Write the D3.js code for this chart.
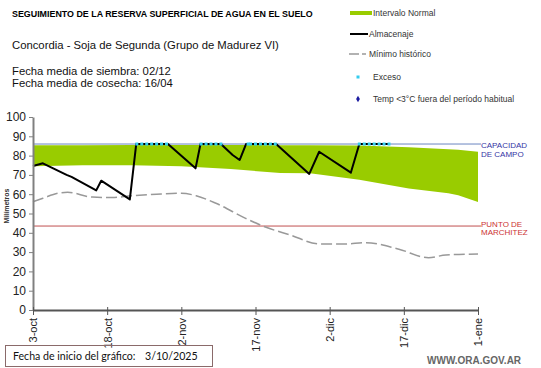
<!DOCTYPE html>
<html>
<head>
<meta charset="utf-8">
<script src="https://cdn.jsdelivr.net/npm/d3@7"></script>
<style>
  body { margin: 0; background: #fff; }
  svg text { font-family: "Liberation Sans", Arial, sans-serif; }
</style>
</head>
<body>
<div id="chart"></div>
<script>
// dimensions of the picture
const W = 541, H = 368;
const margin = {top: 117, right: 62, bottom: 58, left: 33};

// fecha de inicio y etiquetas del eje
const fechaInicio = new Date(2025, 9, 3);
const tickDias = [0, 15, 30, 45, 60, 75, 90];
const tickLabels = ["3-oct", "18-oct", "2-nov", "17-nov", "2-dic", "17-dic", "1-ene"];
const yTicks = [0, 10, 20, 30, 40, 50, 60, 70, 80, 90, 100];

// Intervalo normal (banda verde)
const normalDias = [0, 10, 20, 30, 40, 50, 56, 66, 76, 84, 86, 90];
const normalMin = [74.5, 75, 75, 74.5, 73, 71, 70.8, 67.5, 63, 60.5, 59.5, 56];
const normalMax = [85.4, 85.4, 85.5, 85.5, 85.5, 85.4, 85.3, 85.2, 84.3, 83.3, 83, 82];

// Almacenaje
const almDias = [0, 2, 6.8, 7.8, 12.8, 13.8, 19.6, 20.9, 27.3, 32.9, 33.9, 38, 40.4, 41.8, 43.1, 49.2, 55.9, 57.9, 64.3, 66, 72];
const almValores = [74.6, 76, 70, 69, 62, 67, 57.3, 86, 86, 73.4, 86, 86, 80.3, 77.7, 86, 86, 70.5, 82, 71.2, 86, 86];

// Minimo historico
const minDias = [0, 2, 5, 7, 12, 16, 20, 25, 30, 33, 37, 43, 47, 52, 58, 63, 67.3, 74, 80, 83.5, 90];
const minValores = [56.1, 57.9, 60.5, 61, 58.5, 58.3, 59.2, 60, 60.5, 59.2, 55.3, 47.5, 43, 38.9, 34.2, 34.2, 34.9, 31.5, 27.1, 28.5, 29];

// Dias con exceso (almacenaje en capacidad de campo)
const excesoDias = [21, 22, 23, 24, 25, 26, 27, 34, 35, 36, 37, 38, 43.5, 44, 45, 46, 47, 48, 49, 66, 67, 68, 69, 70, 71, 72];

const capacidadCampo = 86;
const puntoMarchitez = 43.5;

const svg = d3.select("#chart").append("svg")
  .attr("width", W).attr("height", H);

const fecha = d => d3.timeHour.offset(fechaInicio, d * 24);

const x = d3.scaleTime()
  .domain([fechaInicio, fecha(90)])
  .range([margin.left, W - margin.right - 1]);
const y = d3.scaleLinear()
  .domain([0, 100])
  .range([H - margin.bottom, margin.top]);

// header texts
svg.append("text").attr("x", 12).attr("y", 17)
  .style("font-size", "8.9px").style("font-weight", "bold")
  .text("SEGUIMIENTO DE LA RESERVA SUPERFICIAL DE AGUA EN EL SUELO");
svg.append("text").attr("x", 12).attr("y", 49)
  .style("font-size", "11.3px").attr("fill", "#111")
  .text("Concordia - Soja de Segunda (Grupo de Madurez VI)");
svg.append("text").attr("x", 12).attr("y", 75)
  .style("font-size", "11.3px").attr("fill", "#111")
  .text("Fecha media de siembra: 02/12");
svg.append("text").attr("x", 12).attr("y", 87)
  .style("font-size", "11.3px").attr("fill", "#111")
  .text("Fecha media de cosecha: 16/04");

// legend
const leg = svg.append("g").style("font-size", "8.5px").attr("fill", "#333");
leg.append("rect").attr("x", 350).attr("y", 11).attr("width", 22).attr("height", 4).attr("fill", "#99cc00");
leg.append("text").attr("x", 373).attr("y", 16).text("Intervalo Normal");
leg.append("line").attr("x1", 350).attr("x2", 368).attr("y1", 34).attr("y2", 34)
  .attr("stroke", "#000").attr("stroke-width", 2);
leg.append("text").attr("x", 369).attr("y", 37).text("Almacenaje");
leg.append("line").attr("x1", 349).attr("x2", 366).attr("y1", 54).attr("y2", 54)
  .attr("stroke", "#999").attr("stroke-width", 1.3).attr("stroke-dasharray", "10,3");
leg.append("text").attr("x", 369).attr("y", 57).text("Mínimo histórico");
leg.append("rect").attr("x", 356.5).attr("y", 75.5).attr("width", 3).attr("height", 3).attr("fill", "#33ccee");
leg.append("text").attr("x", 373).attr("y", 80).text("Exceso");
leg.append("path").attr("d", d3.symbol(d3.symbolDiamond, 12)()).attr("transform", "translate(358,99)")
  .attr("fill", "#1a1aa0");
leg.append("text").attr("x", 373).attr("y", 102).text("Temp <3°C fuera del período habitual");

// banda intervalo normal
const normal = normalDias.map((d, i) => ({d: d, lo: normalMin[i], hi: normalMax[i]}));
svg.append("path")
  .datum(normal)
  .attr("fill", "#99cc00")
  .attr("d", d3.area().x(p => x(fecha(p.d))).y0(p => y(p.lo)).y1(p => y(p.hi)));

// capacidad de campo / punto de marchitez
svg.append("line")
  .attr("x1", margin.left).attr("x2", 481)
  .attr("y1", y(capacidadCampo)).attr("y2", y(capacidadCampo))
  .attr("stroke", "#6a86c0").attr("stroke-width", 1);
svg.append("line")
  .attr("x1", margin.left).attr("x2", 481)
  .attr("y1", y(puntoMarchitez)).attr("y2", y(puntoMarchitez))
  .attr("stroke", "#c05050").attr("stroke-width", 1);
const lblCap = svg.append("text").style("font-size", "8px").attr("fill", "#3535a5");
lblCap.append("tspan").attr("x", 481).attr("y", y(capacidadCampo) + 3.5).text("CAPACIDAD");
lblCap.append("tspan").attr("x", 481).attr("y", y(capacidadCampo) + 13).text("DE  CAMPO");
const lblMar = svg.append("text").style("font-size", "8px").attr("fill", "#cc3333");
lblMar.append("tspan").attr("x", 481).attr("y", y(puntoMarchitez) + 0.5).text("PUNTO  DE");
lblMar.append("tspan").attr("x", 481).attr("y", y(puntoMarchitez) + 9).text("MARCHITEZ");

// minimo historico
svg.append("path")
  .datum(minDias.map((d, i) => [d, minValores[i]]))
  .attr("fill", "none").attr("stroke", "#999").attr("stroke-width", 1.5)
  .attr("stroke-dasharray", "11,4")
  .attr("d", d3.line().x(p => x(fecha(p[0]))).y(p => y(p[1])).curve(d3.curveMonotoneX));

// almacenaje
svg.append("path")
  .datum(almDias.map((d, i) => [d, almValores[i]]))
  .attr("fill", "none").attr("stroke", "#000").attr("stroke-width", 2)
  .attr("stroke-linejoin", "round")
  .attr("d", d3.line().x(p => x(fecha(p[0]))).y(p => y(p[1])));

// exceso
svg.append("g").selectAll("rect")
  .data(excesoDias)
  .join("rect")
  .attr("x", d => x(fecha(d)) - 1.5)
  .attr("y", y(capacidadCampo) - 1.5)
  .attr("width", 3).attr("height", 3)
  .attr("fill", "#33ccee");

// Y axis
const yAxis = svg.append("g")
  .attr("transform", `translate(${margin.left},0)`)
  .call(d3.axisLeft(y).tickValues(yTicks).tickSize(4).tickSizeOuter(0).tickPadding(3));
yAxis.select(".domain").attr("stroke", "#808080").attr("stroke-width", 2);
yAxis.selectAll(".tick line").attr("stroke", "#808080");
yAxis.selectAll("text").style("font-size", "12px").attr("fill", "#222");

// X axis
const xAxis = svg.append("g")
  .attr("transform", `translate(0,${H - margin.bottom})`)
  .call(d3.axisBottom(x).tickValues(tickDias.map(fecha)).tickFormat((d, i) => tickLabels[i])
    .tickSize(5).tickSizeOuter(0));
xAxis.select(".domain").attr("stroke", "#555").attr("stroke-width", 2);
xAxis.selectAll(".tick line").attr("stroke", "#555").attr("y1", -3);
xAxis.selectAll("text")
  .style("font-size", "11px").attr("fill", "#222")
  .style("text-anchor", "end")
  .attr("transform", "rotate(-90)")
  .attr("x", -8).attr("y", 0).attr("dy", "0.35em");

// titulo eje y
svg.append("text")
  .attr("transform", "translate(9,206) rotate(-90)")
  .style("text-anchor", "middle").style("font-size", "7px").style("font-weight", "bold")
  .attr("fill", "#333")
  .text("Milímetros");

// fecha de inicio
svg.append("rect").attr("x", 5.5).attr("y", 345.5).attr("width", 207).attr("height", 21)
  .attr("fill", "none").attr("stroke", "#8a6a6a").attr("stroke-width", 1);
svg.append("text").attr("x", 13).attr("y", 360)
  .style("font-family", "Lato, sans-serif").style("font-size", "10.6px").attr("fill", "#111")
  .text("Fecha de inicio del gráfico:");
svg.append("text").attr("x", 145).attr("y", 360)
  .style("font-family", "Lato, sans-serif").style("font-size", "10.6px").attr("fill", "#111")
  .text("3/10/2025");

svg.append("text").attr("x", 427).attr("y", 364)
  .style("font-size", "10px").style("font-weight", "bold").attr("fill", "#666")
  .text("WWW.ORA.GOV.AR");
</script>
</body>
</html>
